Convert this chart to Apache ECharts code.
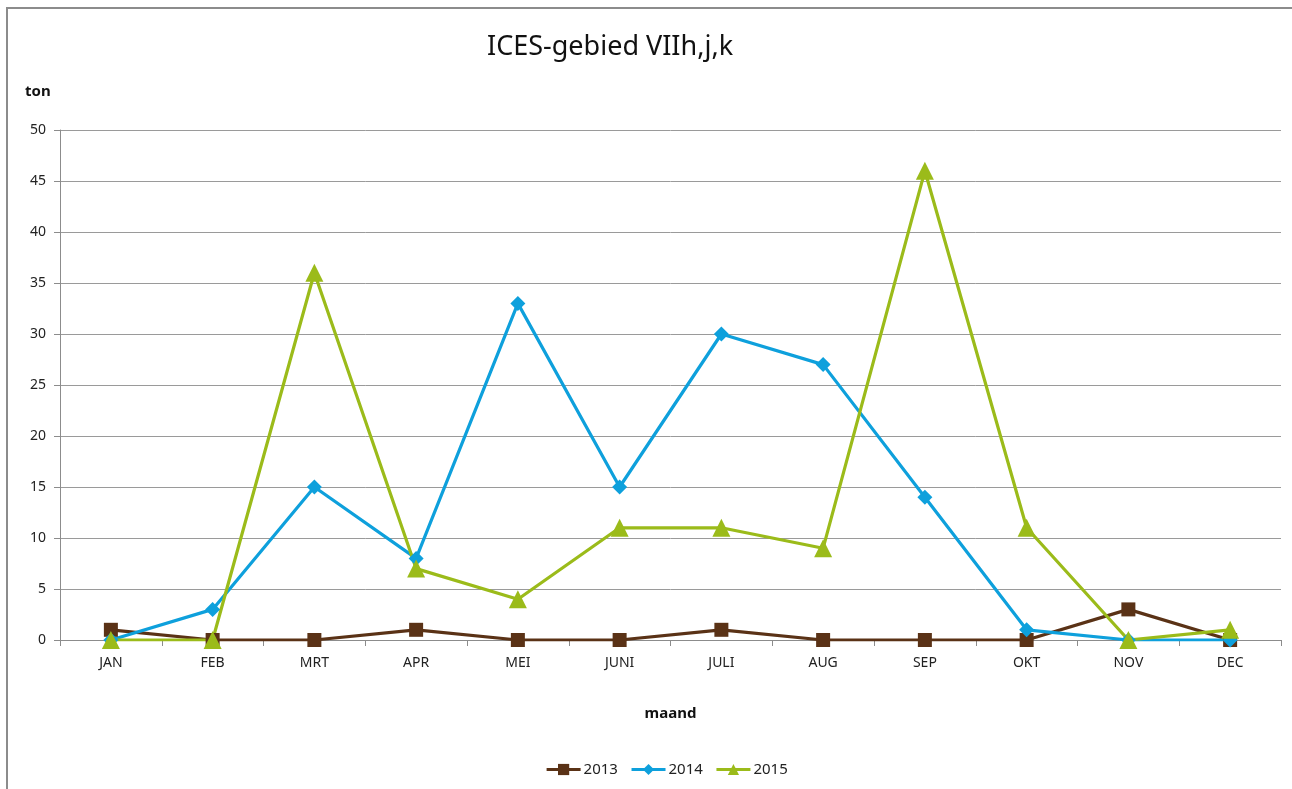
<!DOCTYPE html>
<html>
<head>
<meta charset="utf-8">
<style>
  html, body { margin: 0; padding: 0; background: #fff; }
  #chart { width: 1292px; height: 789px; }
</style>
<script src="https://cdn.jsdelivr.net/npm/echarts@6/dist/echarts.min.js"></script>
</head>
<body>
<div id="chart"></div>
<script>
// Monthly landings (ton) in ICES area VIIh,j,k
const months = ['JAN', 'FEB', 'MRT', 'APR', 'MEI', 'JUNI', 'JULI', 'AUG', 'SEP', 'OKT', 'NOV', 'DEC'];
const values2013 = [1, 0, 0, 1, 0, 0, 1, 0, 0, 0, 3, 0];
const values2014 = [0, 3, 15, 8, 33, 15, 30, 27, 14, 1, 0, 0];
const values2015 = [0, 0, 36, 7, 4, 11, 11, 9, 46, 11, 0, 1];

const FONT = 'Noto Sans';
const chart = echarts.init(document.getElementById('chart'), null, { renderer: 'canvas' });

function lineSeries(name, data, color, symbol, size) {
  return {
    name: name,
    type: 'line',
    data: data,
    symbol: symbol,
    symbolSize: size,
    showAllSymbol: true,
    lineStyle: { color: color, width: 3.2 },
    itemStyle: { color: color },
    emphasis: { disabled: true },
    animation: false
  };
}

chart.setOption({
  animation: false,
  backgroundColor: '#fff',
  title: {
    text: 'ICES-gebied VIIh,j,k',
    left: 482,
    top: 29,
    textStyle: { fontFamily: FONT, fontSize: 27, fontWeight: 'normal', color: '#111' }
  },
  graphic: [{
    type: 'rect',
    shape: { x: 7, y: 8, width: 1400, height: 900 },
    style: { fill: 'none', stroke: '#8c8c8c', lineWidth: 2 },
    silent: true
  }],
  grid: { left: 60, right: 11, top: 130, bottom: 149, containLabel: false },
  legend: {
    bottom: 7,
    left: 540,
    itemGap: 12,
    itemWidth: 34,
    itemHeight: 14,
    lineStyle: { width: 3.2 },
    textStyle: { fontFamily: FONT, fontSize: 15, color: '#222', padding: [0, 0, 0, -2] },
    data: ['2013', '2014', '2015']
  },
  xAxis: {
    type: 'category',
    data: months,
    boundaryGap: true,
    name: 'maand',
    nameLocation: 'middle',
    nameGap: 66,
    nameTextStyle: { fontFamily: FONT, fontSize: 15, fontWeight: 'bold', color: '#111' },
    axisLine: { lineStyle: { color: '#8c8c8c', width: 1 } },
    axisTick: { show: true, inside: false, length: 6, alignWithLabel: false, lineStyle: { color: '#8c8c8c' } },
    axisLabel: { fontFamily: FONT, fontSize: 14, color: '#222', margin: 16 },
    splitLine: { show: false }
  },
  yAxis: {
    type: 'value',
    min: 0,
    max: 50,
    interval: 5,
    name: 'ton',
    nameLocation: 'end',
    nameGap: 0,
    nameTextStyle: { fontFamily: FONT, fontSize: 15, fontWeight: 'bold', color: '#111', align: 'left', padding: [0, 0, 31, -35] },
    axisLine: { show: true, lineStyle: { color: '#8c8c8c', width: 1 } },
    axisTick: { show: true, inside: false, length: 6, lineStyle: { color: '#8c8c8c' } },
    axisLabel: { fontFamily: FONT, fontSize: 14, color: '#222', margin: 14 },
    splitLine: { show: true, lineStyle: { color: '#9a9a9a', width: 1 } }
  },
  series: [
    lineSeries('2013', values2013, '#5a3216', 'rect', 14),
    lineSeries('2014', values2014, '#0ea0dc', 'diamond', 15),
    lineSeries('2015', values2015, '#9bbb1a', 'triangle', 18)
  ]
});
</script>
</body>
</html>
